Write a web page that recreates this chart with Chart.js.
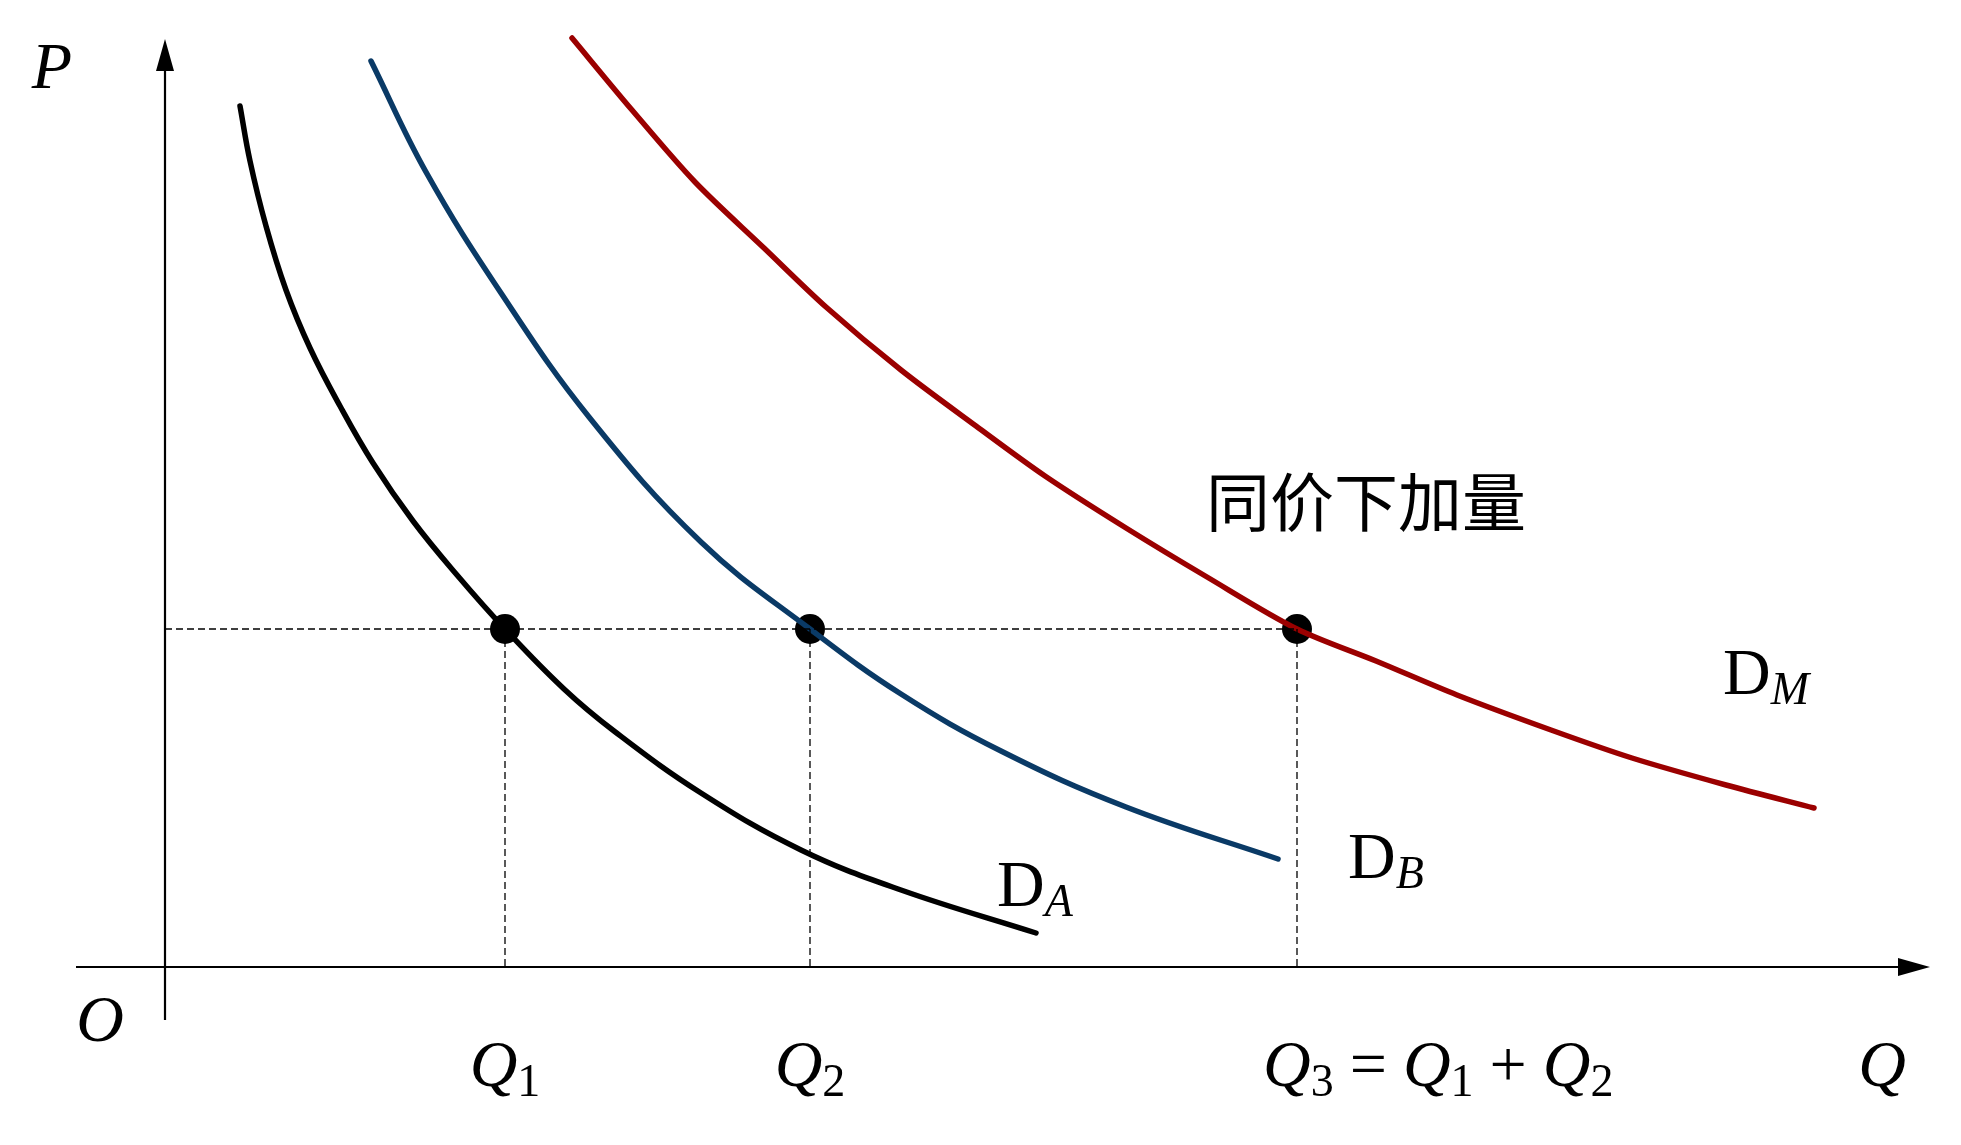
<!DOCTYPE html>
<html>
<head>
<meta charset="utf-8">
<script src="https://cdn.jsdelivr.net/npm/chart.js@4.4.1/dist/chart.umd.min.js"></script>
<style>
    html, body { margin: 0; padding: 0; background: #fff; overflow: hidden; }
    #wrap { width: 1961px; height: 1145px; position: relative; }
</style>
</head>
<body>
<div id="wrap"><canvas id="demand-chart"></canvas></div>
<script>
// Market demand = horizontal sum of individual demands

// Individual demand A (black)
const demandAQ = [0.75, 0.85, 1.01, 1.21, 1.45, 1.75, 2.08, 2.48, 2.92, 3.40, 3.99, 4.49, 5.36, 6.36, 7.36, 8.71];
const demandAP = [8.61, 8.06, 7.41, 6.77, 6.19, 5.61, 5.04, 4.46, 3.92, 3.38, 2.78, 2.36, 1.74, 1.17, 0.77, 0.34];

// Individual demand B (blue)
const demandBQ = [2.06, 2.61, 3.36, 4.24, 5.36, 6.45, 7.36, 8.36, 9.61, 11.13];
const demandBP = [9.06, 7.95, 6.74, 5.50, 4.25, 3.38, 2.73, 2.16, 1.60, 1.08];

// Market demand M (red)
const demandMQ = [4.07, 4.67, 5.30, 5.99, 6.61, 7.36, 8.11, 8.80, 9.61, 10.42, 11.32, 12.11, 12.92, 13.86, 14.67, 15.61, 16.49];
const demandMP = [9.29, 8.57, 7.85, 7.19, 6.60, 5.97, 5.41, 4.91, 4.39, 3.90, 3.38, 3.06, 2.72, 2.37, 2.09, 1.82, 1.59];

// Quantities demanded at the common price
const quantities = [3.40, 6.45, 11.32];
const commonPrice = 3.38;
const qLabels = ['1', '2'];

// Axis extents
const xAxisRange = [-0.89, 17.65];
const yAxisRange = [-0.53, 9.28];

const colors = {
    black: '#000000',
    blue: '#0a3a66',
    red: '#9b0000'
};

const MATH = 'italic 66px "Liberation Serif", "Times New Roman", serif';
const ROMAN = '66px "Liberation Serif", "Times New Roman", serif';
const SUB = '46px "Liberation Serif", "Times New Roman", serif';
const SUB_I = 'italic 46px "Liberation Serif", "Times New Roman", serif';
const CJK = '64px "Noto Sans CJK SC", sans-serif';

function toPoints(xs, ys) {
    return xs.map((x, i) => ({ x: x, y: ys[i] }));
}

function curve(xs, ys, color, tension) {
    return {
        data: toPoints(xs, ys),
        showLine: true,
        borderColor: color,
        borderWidth: 5.5,
        pointRadius: 0,
        borderCapStyle: 'round',
        borderJoinStyle: 'round',
        tension: tension
    };
}

function dashed(points) {
    return {
        data: points,
        showLine: true,
        borderColor: '#000',
        borderWidth: 1.3,
        borderDash: [7, 4],
        pointRadius: 0
    };
}

// draw a row of text runs, each with its own font and baseline shift
function drawRuns(ctx, runs, x, y, align) {
    ctx.textBaseline = 'alphabetic';
    ctx.textAlign = 'left';
    let total = 0;
    const widths = runs.map(r => {
        if (r.gap) return r.gap;
        ctx.font = r.font;
        return ctx.measureText(r.text).width;
    });
    widths.forEach(w => total += w);
    let cx = align === 'center' ? x - total / 2 : x;
    runs.forEach((r, i) => {
        if (!r.gap) {
            ctx.font = r.font;
            ctx.fillText(r.text, cx, y + (r.dy || 0));
        }
        cx += widths[i];
    });
}

const axesPlugin = {
    id: 'axes',
    beforeDatasetsDraw(chart) {
        const ctx = chart.ctx;
        const xs = chart.scales.x, ys = chart.scales.y;
        const x0 = xs.getPixelForValue(0), y0 = ys.getPixelForValue(0);
        const xl = xs.getPixelForValue(xAxisRange[0]), xr = xs.getPixelForValue(xAxisRange[1]);
        const yb = ys.getPixelForValue(yAxisRange[0]), yt = ys.getPixelForValue(yAxisRange[1]);
        ctx.save();
        ctx.strokeStyle = '#000';
        ctx.fillStyle = '#000';
        ctx.lineWidth = 2.2;
        ctx.beginPath();
        ctx.moveTo(xl, y0); ctx.lineTo(xr - 20, y0);
        ctx.moveTo(x0, yb); ctx.lineTo(x0, yt + 20);
        ctx.stroke();
        // arrow heads
        ctx.beginPath();
        ctx.moveTo(xr, y0); ctx.lineTo(xr - 32, y0 - 9); ctx.lineTo(xr - 32, y0 + 9); ctx.closePath();
        ctx.moveTo(x0, yt); ctx.lineTo(x0 - 9, yt + 32); ctx.lineTo(x0 + 9, yt + 32); ctx.closePath();
        ctx.fill();
        ctx.restore();
    }
};

const labelPlugin = {
    id: 'labels',
    afterDraw(chart) {
        const ctx = chart.ctx;
        const xs = chart.scales.x, ys = chart.scales.y;
        const px = v => xs.getPixelForValue(v);
        const py = v => ys.getPixelForValue(v);
        ctx.save();
        ctx.fillStyle = '#000';

        drawRuns(ctx, [{ text: 'P', font: MATH }], px(-1.13), py(8.79), 'center');
        drawRuns(ctx, [{ text: 'O', font: MATH }], px(-0.65), py(-0.74), 'center');
        drawRuns(ctx, [{ text: 'Q', font: MATH }], px(17.17), py(-1.19), 'center');

        qLabels.forEach((s, i) => {
            drawRuns(ctx, [
                { text: 'Q', font: MATH },
                { text: s, font: SUB, dy: 10 }
            ], px(quantities[i]), py(-1.19), 'center');
        });

        drawRuns(ctx, [
            { text: 'Q', font: MATH }, { text: '3', font: SUB, dy: 10 }, { gap: 16 },
            { text: '=', font: ROMAN }, { gap: 16 },
            { text: 'Q', font: MATH }, { text: '1', font: SUB, dy: 10 }, { gap: 16 },
            { text: '+', font: ROMAN }, { gap: 16 },
            { text: 'Q', font: MATH }, { text: '2', font: SUB, dy: 10 }
        ], px(10.98), py(-1.19), 'left');

        drawRuns(ctx, [{ text: 'D', font: ROMAN }, { text: 'A', font: SUB_I, dy: 10 }], px(8.32), py(0.61), 'left');
        drawRuns(ctx, [{ text: 'D', font: ROMAN }, { text: 'B', font: SUB_I, dy: 10 }], px(11.83), py(0.89), 'left');
        drawRuns(ctx, [{ text: 'D', font: ROMAN }, { text: 'M', font: SUB_I, dy: 10 }], px(15.58), py(2.73), 'left');

        ctx.font = CJK;
        ctx.textAlign = 'center';
        ctx.textBaseline = 'middle';
        ctx.fillText('同价下加量', px(12.01), py(4.65));
        ctx.restore();
    }
};

document.addEventListener('DOMContentLoaded', () => {
    const datasets = [];

    // guide lines at the common price
    datasets.push(dashed([{ x: 0, y: commonPrice }, { x: quantities[2], y: commonPrice }]));
    quantities.forEach(q => {
        datasets.push(dashed([{ x: q, y: commonPrice }, { x: q, y: 0 }]));
    });

    datasets.push(curve(demandAQ, demandAP, colors.black, 0.4));
    datasets.push(curve(demandBQ, demandBP, colors.blue, 0.4));
    datasets.push(curve(demandMQ, demandMP, colors.red, 0.3));

    datasets.push({
        data: quantities.map(q => ({ x: q, y: commonPrice })),
        showLine: false,
        pointRadius: 15,
        pointBackgroundColor: '#000',
        pointBorderWidth: 0
    });

    new Chart(document.getElementById('demand-chart'), {
        type: 'scatter',
        data: { datasets: datasets },
        options: {
            responsive: true,
            maintainAspectRatio: false,
            animation: false,
            layout: { padding: 0, autoPadding: false },
            plugins: {
                legend: { display: false },
                tooltip: { enabled: false }
            },
            scales: {
                x: { type: 'linear', min: -1.65, max: 17.96, display: false },
                y: { type: 'linear', min: -1.78, max: 9.67, display: false }
            }
        },
        plugins: [axesPlugin, labelPlugin]
    });
});
</script>
</body>
</html>
